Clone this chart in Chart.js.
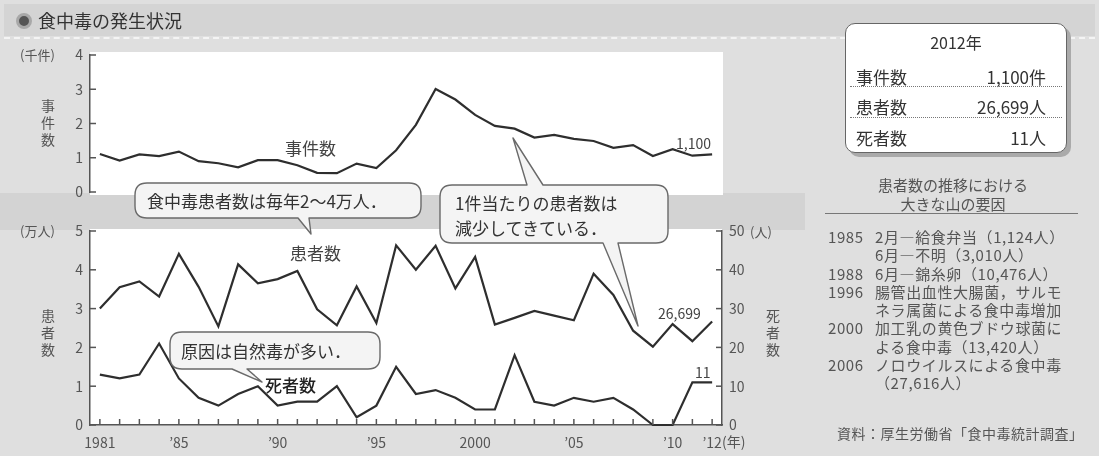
<!DOCTYPE html>
<html lang="ja">
<head>
<meta charset="utf-8">
<script src="https://cdn.jsdelivr.net/npm/chart.js@4.4.1/dist/chart.umd.min.js"></script>
<style>
  body { margin: 0; background: #dfdfdf; font-family: "Noto Sans CJK JP", sans-serif; color: #444; }
  #wrap { position: relative; width: 1099px; height: 456px; overflow: hidden; }
  canvas, svg { position: absolute; left: 0; top: 0; }
  .t { position: absolute; white-space: nowrap; line-height: 1; }
  .v { position: absolute; writing-mode: vertical-rl; font-size: 14px; letter-spacing: 3px; color: #555; line-height: 1; }
  .band { position: absolute; }
  #box { position: absolute; left: 845px; top: 23px; width: 220px; height: 128px; background: #fff;
         border: 1.5px solid #666; border-radius: 10px; box-shadow: 4px 4px 0 #aaa; }
  #box .row { position: absolute; left: 10px; right: 20px; height: 30px; font-size: 17px; color: #333; }
  #box .row span { position: absolute; top: 6px; }
  #box .sep { position: absolute; left: 4px; right: 4px; border-top: 1.5px dotted #777; }
  .list { position: absolute; font-size: 15px; color: #555; letter-spacing: 0.6px; }
</style>
</head>
<body>
<div id="wrap">
  <div class="band" style="left:4px;top:4px;width:1091px;height:32px;background:#d4d4d4"></div>
  <div class="band" style="left:4px;top:37px;width:1091px;border-top:2px dashed #f4f4f4"></div>
  <div class="band" style="left:0;top:193px;width:805px;height:37px;background:#d3d3d3"></div>

  <canvas id="topChart" width="1099" height="456"></canvas>
  <canvas id="bottomChart" width="1099" height="456"></canvas>

  <svg width="1099" height="456">
    <g fill="#f4f4f4" stroke="#6a6a6a" stroke-width="1.4" stroke-linejoin="round">
      <path d="M147 183 L409 183 Q421 183 421 195 L421 206 Q421 218 409 218 L309 218 L311 234 L298 218 L147 218 Q135 218 135 206 L135 195 Q135 183 147 183 Z"/>
      <path d="M452 185 L527 185 L513 138 L543 185 L656 185 Q668 185 668 197 L668 231 Q668 243 656 243 L618 243 L638 326 L603 243 L452 243 Q440 243 440 231 L440 197 Q440 185 452 185 Z"/>
      <path d="M182 332 L368 332 Q380 332 380 344 L380 357 Q380 369 368 369 L247 369 L262 382 L232 369 L182 369 Q170 369 170 357 L170 344 Q170 332 182 332 Z"/>
    </g>
  </svg>

  <!-- title -->
  <div style="position:absolute;left:16px;top:13px;width:10px;height:10px;border:3px solid #a8a8a8;background:#555;border-radius:50%"></div>
  <div class="t" style="left:38px;top:11px;font-size:18px;color:#333">食中毒の発生状況</div>

  <!-- axis captions -->
  <div class="t" style="left:20px;top:48px;font-size:13px;color:#555">(千件)</div>
  <div class="v" style="left:41px;top:99px">事件数</div>
  <div class="t" style="left:20px;top:224px;font-size:13px;color:#555">(万人)</div>
  <div class="v" style="left:41px;top:309px">患者数</div>
  <div class="t" style="left:750px;top:225px;font-size:13px;color:#555">(人)</div>
  <div class="v" style="left:766px;top:309px">死者数</div>
  <div class="t" style="left:722px;top:434px;font-size:14px;color:#555">(年)</div>

  <!-- series labels -->
  <div class="t" style="left:285px;top:139px;font-size:17px;color:#444">事件数</div>
  <div class="t" style="left:676px;top:136px;font-size:14px;color:#444">1,100</div>
  <div class="t" style="left:290px;top:244px;font-size:17px;color:#444">患者数</div>
  <div class="t" style="left:265px;top:376px;font-size:17px;color:#222;font-weight:500">死者数</div>
  <div class="t" style="left:658px;top:306px;font-size:14px;color:#444">26,699</div>
  <div class="t" style="left:695px;top:365px;font-size:14px;color:#444">11</div>

  <!-- callouts -->
  <div class="t" style="left:147px;top:192px;font-size:17px;color:#333">食中毒患者数は毎年2〜4万人．</div>
  <div class="t" style="left:455px;top:194px;font-size:17px;color:#333;line-height:25px;margin-top:-4px">1件当たりの患者数は<br>減少してきている．</div>
  <div class="t" style="left:181px;top:342px;font-size:17px;color:#333">原因は自然毒が多い．</div>

  <!-- 2012 summary -->
  <div id="box">
    <div class="t" style="left:0;right:0;top:10px;text-align:center;font-size:16px;color:#333">2012年</div>
    <div class="row" style="top:34px"><span style="left:0">事件数</span><span style="right:0">1,100件</span></div>
    <div class="sep" style="top:62px"></div>
    <div class="row" style="top:64px"><span style="left:0">患者数</span><span style="right:0">26,699人</span></div>
    <div class="sep" style="top:93px"></div>
    <div class="row" style="top:95px"><span style="left:0">死者数</span><span style="right:0">11人</span></div>
  </div>

  <div class="t" style="left:953px;top:175px;transform:translateX(-50%);font-size:15px;color:#555;text-align:center;line-height:19px">患者数の推移における<br>大きな山の要因</div>
  <div class="band" style="left:825px;top:213px;width:253px;border-top:1.5px solid #777"></div>

  <div class="list" style="left:828px;top:228px;line-height:18.3px">
    1985<br><br>1988<br>1996<br><br>2000<br><br>2006
  </div>
  <div class="list" style="left:875px;top:228px;line-height:18.3px">
    2月—給食弁当（1,124人）<br>6月—不明（3,010人）<br>6月—錦糸卵（10,476人）<br>腸管出血性大腸菌，サルモ<br>ネラ属菌による食中毒増加<br>加工乳の黄色ブドウ球菌に<br>よる食中毒（13,420人）<br>ノロウイルスによる食中毒<br>（27,616人）
  </div>
  <div class="t" style="left:837px;top:426px;font-size:14px;color:#555;letter-spacing:0.5px">資料：厚生労働省「食中毒統計調査」</div>
</div>

<script>
// 1981–2012
const years = [1981, 1982, 1983, 1984, 1985, 1986, 1987, 1988, 1989, 1990,
               1991, 1992, 1993, 1994, 1995, 1996, 1997, 1998, 1999, 2000,
               2001, 2002, 2003, 2004, 2005, 2006, 2007, 2008, 2009, 2010,
               2011, 2012];

// 事件数 (千件)
const incidents = [1.11, 0.92, 1.10, 1.05, 1.18, 0.90, 0.84, 0.72, 0.93, 0.93,
                   0.78, 0.56, 0.55, 0.83, 0.70, 1.22, 1.96, 3.01, 2.70, 2.25,
                   1.93, 1.85, 1.59, 1.67, 1.55, 1.49, 1.29, 1.37, 1.05, 1.25,
                   1.06, 1.10];

// 患者数 (万人)
const patients = [3.00, 3.55, 3.70, 3.31, 4.41, 3.56, 2.54, 4.14, 3.65, 3.76,
                  3.97, 2.98, 2.57, 3.57, 2.63, 4.63, 4.00, 4.62, 3.52, 4.33,
                  2.59, 2.76, 2.94, 2.82, 2.70, 3.90, 3.35, 2.43, 2.02, 2.60,
                  2.16, 2.6699];

// 死者数 (人)
const deaths = [13, 12, 13, 21, 12, 7, 5, 8, 10, 5,
                6, 6, 10, 2, 5, 15, 8, 9, 7, 4,
                4, 18, 6, 5, 7, 6, 7, 4, 0, 0,
                11, 11];

const labeledYears = [1981, 1985, 1990, 1995, 2000, 2005, 2010, 2012];
const labeledText = ['1981', '’85', '’90', '’95', '2000', '’05', '’10', '’12'];

const tickFont = { family: '"Noto Sans CJK JP", sans-serif', size: 14 };
const axisColor = '#555';
const lineColor = '#2e2e2e';

// white plotting panel behind each chart
const panel = {
  id: 'panel',
  beforeDraw(chart, args, opts) {
    const a = chart.chartArea, ctx = chart.ctx;
    ctx.save();
    ctx.fillStyle = '#fff';
    ctx.fillRect(a.left, a.top - opts.above, a.right - a.left + opts.right,
                 a.bottom - a.top + opts.above + opts.below);
    ctx.restore();
  }
};

// short tick marks pointing into the plot
const inwardTicks = {
  id: 'inwardTicks',
  afterDraw(chart) {
    const ctx = chart.ctx;
    ctx.save();
    ctx.strokeStyle = axisColor;
    ctx.lineWidth = 1.5;
    Object.values(chart.scales).forEach(s => {
      if (!s.options.display) return;
      s.ticks.forEach((t, i) => {
        const p = s.getPixelForTick(i);
        ctx.beginPath();
        if (s.position === 'left') { ctx.moveTo(s.right, p); ctx.lineTo(s.right + 6, p); }
        else if (s.position === 'right') { ctx.moveTo(s.left, p); ctx.lineTo(s.left - 6, p); }
        else { ctx.moveTo(p, s.top); ctx.lineTo(p, s.top - 6); }
        ctx.stroke();
      });
    });
    ctx.restore();
  }
};

function yAxis(pos, max, step, width) {
  return {
    position: pos, min: 0, max: max,
    ticks: { stepSize: step, padding: 7, color: axisColor, font: tickFont },
    grid: { display: true, drawOnChartArea: false, drawTicks: false },
    border: { color: axisColor, width: 1.5 },
    afterFit(s) { s.width = width; }
  };
}

new Chart(document.getElementById('topChart'), {
  type: 'line',
  data: {
    labels: years,
    datasets: [{ data: incidents, borderColor: lineColor, borderWidth: 2.2, pointRadius: 0, tension: 0, clip: 5 }]
  },
  options: {
    responsive: false, animation: false,
    layout: { padding: { left: 0, top: 55, right: 377, bottom: 264 } },
    plugins: { legend: { display: false }, tooltip: { enabled: false },
               panel: { above: 3, below: 3, right: 1 } },
    scales: {
      x: { type: 'category', offset: true, display: false },
      y: yAxis('left', 4, 1, 90)
    }
  },
  plugins: [panel, inwardTicks]
});

new Chart(document.getElementById('bottomChart'), {
  type: 'line',
  data: {
    labels: years,
    datasets: [
      { data: patients, yAxisID: 'y', borderColor: lineColor, borderWidth: 2.2, pointRadius: 0, tension: 0, clip: 5 },
      { data: deaths, yAxisID: 'y1', borderColor: lineColor, borderWidth: 2.2, pointRadius: 0, tension: 0, clip: 5 }
    ]
  },
  options: {
    responsive: false, animation: false,
    layout: { padding: { left: 0, top: 231, right: 317, bottom: 5 } },
    plugins: { legend: { display: false }, tooltip: { enabled: false },
               panel: { above: 2, below: 0, right: 0 } },
    scales: {
      x: {
        type: 'category', offset: true,
        grid: { display: true, drawOnChartArea: false, drawTicks: false },
        border: { color: axisColor, width: 1.5 },
        ticks: {
          autoSkip: false, maxRotation: 0, padding: 9, color: axisColor, font: tickFont,
          callback(value) {
            const k = labeledYears.indexOf(Number(this.getLabelForValue(value)));
            return k >= 0 ? labeledText[k] : '';
          }
        },
        afterFit(s) { s.height = 26; }
      },
      y: yAxis('left', 5, 1, 90),
      y1: yAxis('right', 50, 10, 60)
    }
  },
  plugins: [panel, inwardTicks]
});
</script>
</body>
</html>
